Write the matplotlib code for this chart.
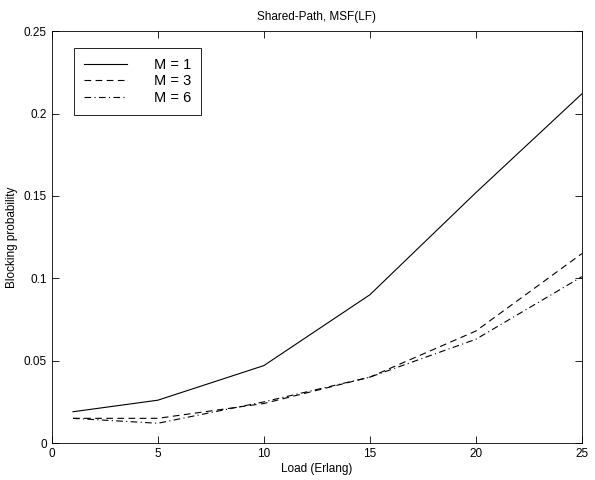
import matplotlib.pyplot as plt

plt.rcParams['font.family'] = ['Liberation Sans', 'DejaVu Sans']

# load points (Erlang)
load = [1, 5, 10, 15, 20, 25]

# blocking probability per M
m1 = [0.019, 0.026, 0.047, 0.090, 0.152, 0.212]
m3 = [0.015, 0.015, 0.024, 0.040, 0.068, 0.115]
m6 = [0.015, 0.012, 0.025, 0.040, 0.063, 0.101]

fig = plt.figure(figsize=(5.95, 4.8), dpi=100)
ax = fig.add_axes([0.087, 0.077, 0.891, 0.858])

ax.plot(load, m1, color='black', linestyle='-', linewidth=0.8, label='M = 1')
ax.plot(load, m3, color='black', linestyle=(0, (6, 4)), linewidth=0.8, label='M = 3')
ax.plot(load, m6, color='black', linestyle=(0, (6, 3, 1, 3)), linewidth=0.8, label='M = 6')

ax.set_xlim(0, 25)
ax.set_ylim(0, 0.25)
ax.set_xticks([0, 5, 10, 15, 20, 25])
ax.set_yticks([0, 0.05, 0.1, 0.15, 0.2, 0.25])
ax.set_yticklabels(['0', '0.05', '0.1', '0.15', '0.2', '0.25'])
ax.tick_params(direction='in', top=True, right=True, length=5, labelsize=8.5, width=0.6)
for s in ax.spines.values():
    s.set_linewidth(0.6)

ax.set_xlabel('Load (Erlang)', fontsize=8.5, labelpad=2)
ax.set_ylabel('Blocking probability', fontsize=8.5, labelpad=4)
ax.set_title('Shared-Path, MSF(LF)', fontsize=8.5, pad=8)

leg = ax.legend(loc='upper left', bbox_to_anchor=(0.042, 0.959), borderaxespad=0,
                fontsize=10.5, handlelength=2.9, handletextpad=1.85, fancybox=False,
                edgecolor='black', framealpha=1, borderpad=0.7, labelspacing=0.15)
leg.get_frame().set_linewidth(0.6)

fig.savefig('out.png', dpi=100)
